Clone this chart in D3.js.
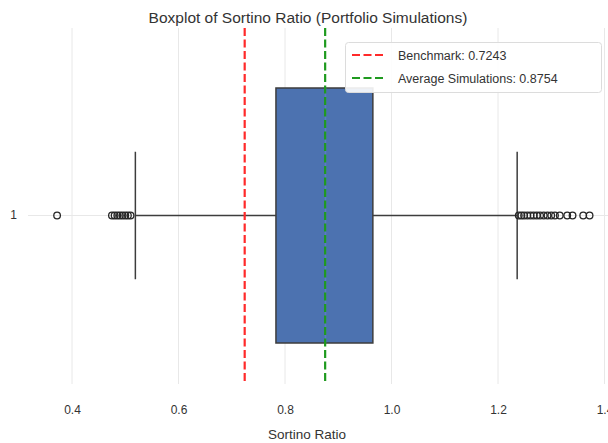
<!DOCTYPE html>
<html>
<head>
<meta charset="utf-8">
<script src="https://cdn.jsdelivr.net/npm/d3@7"></script>
<style>
  body { margin: 0; background: #fff; }
  svg { display: block; font-family: "Liberation Sans", Arial, sans-serif; }
</style>
</head>
<body>
<svg id="chart" width="608" height="443"></svg>
<script>
// Summary of the simulated Sortino ratios
const categories = ["1"];
const boxStats = { q1: 0.783, median: 0.876, q3: 0.965, whiskerLow: 0.519, whiskerHigh: 1.236 };
const outliersLow = [0.372, 0.475, 0.480, 0.485, 0.490, 0.495, 0.500, 0.505, 0.510];
const outliersHigh = [1.239, 1.244, 1.249, 1.255, 1.261, 1.267, 1.273, 1.279, 1.286, 1.293, 1.300,
                      1.307, 1.316, 1.330, 1.340, 1.360, 1.372];
const benchmark = 0.7243;
const averageSim = 0.8754;
const xTicks = [0.4, 0.6, 0.8, 1.0, 1.2, 1.4];

const svg = d3.select("#chart");
const plot = { left: 28, right: 640, top: 28, bottom: 384 };

const x = d3.scaleLinear().domain([0.4, 1.4]).range([72, 604.5]);
const y = d3.scaleBand().domain(categories).range([88, 343]).padding(0);
const yc = y(categories[0]) + y.bandwidth() / 2;

svg.append("defs").append("clipPath").attr("id", "clip")
  .append("rect").attr("x", plot.left).attr("y", plot.top)
  .attr("width", plot.right - plot.left).attr("height", plot.bottom - plot.top);

const g = svg.append("g").attr("clip-path", "url(#clip)");

// grid
g.selectAll(".vgrid").data(xTicks).join("line")
  .attr("x1", d => x(d)).attr("x2", d => x(d))
  .attr("y1", plot.top).attr("y2", plot.bottom)
  .attr("stroke", "#e8e8e8").attr("stroke-width", 1);
g.append("line").attr("x1", plot.left).attr("x2", plot.right)
  .attr("y1", yc).attr("y2", yc).attr("stroke", "#e8e8e8");

const lineCol = "#3d3d3d";
// whiskers
g.append("line").attr("x1", x(boxStats.whiskerLow)).attr("x2", x(boxStats.q1))
  .attr("y1", yc).attr("y2", yc).attr("stroke", lineCol).attr("stroke-width", 1.5);
g.append("line").attr("x1", x(boxStats.q3)).attr("x2", x(boxStats.whiskerHigh))
  .attr("y1", yc).attr("y2", yc).attr("stroke", lineCol).attr("stroke-width", 1.5);
// caps
const capHalf = y.bandwidth() / 4;
[boxStats.whiskerLow, boxStats.whiskerHigh].forEach(v => {
  g.append("line").attr("x1", x(v)).attr("x2", x(v))
    .attr("y1", yc - capHalf).attr("y2", yc + capHalf)
    .attr("stroke", lineCol).attr("stroke-width", 1.5);
});
// box
g.append("rect")
  .attr("x", x(boxStats.q1)).attr("y", y(categories[0]))
  .attr("width", x(boxStats.q3) - x(boxStats.q1)).attr("height", y.bandwidth())
  .attr("fill", "#4c72b0").attr("stroke", lineCol).attr("stroke-width", 1.5);
// median
g.append("line").attr("x1", x(boxStats.median)).attr("x2", x(boxStats.median))
  .attr("y1", y(categories[0])).attr("y2", y(categories[0]) + y.bandwidth())
  .attr("stroke", "#5a7fc0").attr("stroke-width", 1.5);
// fliers
g.selectAll(".flier").data(outliersLow.concat(outliersHigh)).join("circle")
  .attr("cx", d => x(d)).attr("cy", yc).attr("r", 3.3)
  .attr("fill", "none").attr("stroke", "#262626").attr("stroke-width", 1.3);

// reference lines
g.append("line").attr("x1", x(benchmark)).attr("x2", x(benchmark))
  .attr("y1", plot.top).attr("y2", plot.bottom)
  .attr("stroke", "#ff2a2a").attr("stroke-width", 2.2).attr("stroke-dasharray", "8,3.5");
g.append("line").attr("x1", x(averageSim)).attr("x2", x(averageSim))
  .attr("y1", plot.top).attr("y2", plot.bottom)
  .attr("stroke", "#1f9a1f").attr("stroke-width", 2.2).attr("stroke-dasharray", "8,3.5");

// axes
const xAxis = svg.append("g").attr("transform", `translate(0,${plot.bottom})`)
  .call(d3.axisBottom(x).tickValues(xTicks).tickFormat(d3.format(".1f")).tickSize(0).tickPadding(21));
xAxis.select(".domain").remove();
xAxis.selectAll("text").attr("font-size", 12).attr("fill", "#333")
  .attr("font-family", "Liberation Sans, Arial, sans-serif");

const yAxis = svg.append("g").attr("transform", `translate(${plot.left},0)`)
  .call(d3.axisLeft(y).tickSize(0).tickPadding(11));
yAxis.select(".domain").remove();
yAxis.selectAll("text").attr("font-size", 12).attr("fill", "#333")
  .attr("font-family", "Liberation Sans, Arial, sans-serif");

// titles
svg.append("text").attr("x", 308).attr("y", 23).attr("text-anchor", "middle")
  .attr("font-size", 15.5).attr("fill", "#333").text("Boxplot of Sortino Ratio (Portfolio Simulations)");
svg.append("text").attr("x", 307).attr("y", 439).attr("text-anchor", "middle")
  .attr("font-size", 13.5).attr("fill", "#333").text("Sortino Ratio");

// legend
const legend = svg.append("g");
legend.append("rect").attr("x", 345.5).attr("y", 42.5).attr("width", 256).attr("height", 50)
  .attr("rx", 3).attr("fill", "#fff").attr("fill-opacity", 0.9).attr("stroke", "#dcdcdc");
const items = [
  { label: `Benchmark: ${benchmark.toFixed(4)}`, color: "#ff2a2a" },
  { label: `Average Simulations: ${averageSim.toFixed(4)}`, color: "#1f9a1f" }
];
items.forEach((it, i) => {
  const yy = 55 + i * 23;
  legend.append("line").attr("x1", 352).attr("x2", 384).attr("y1", yy).attr("y2", yy)
    .attr("stroke", it.color).attr("stroke-width", 2.2).attr("stroke-dasharray", "8,3.5");
  legend.append("text").attr("x", 398).attr("y", yy + 4.5).attr("font-size", 12.5)
    .attr("fill", "#333").text(it.label);
});
</script>
</body>
</html>
